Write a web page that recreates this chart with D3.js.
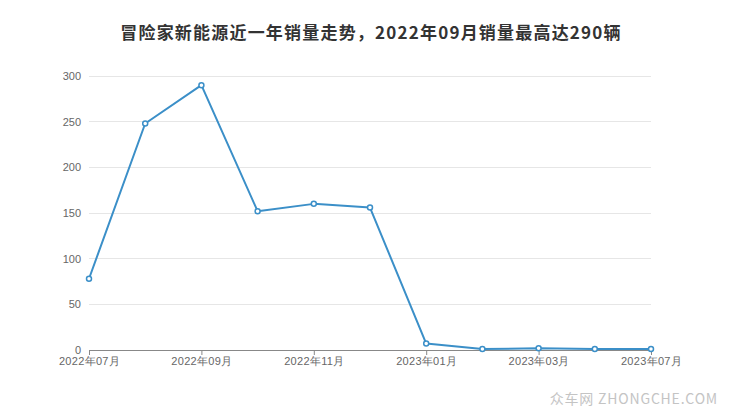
<!DOCTYPE html>
<html><head><meta charset="utf-8">
<script src="https://cdn.jsdelivr.net/npm/d3@7"></script>
<style>body{margin:0;background:#fff;}svg{display:block;font-family:"Noto Sans CJK SC","Liberation Sans",sans-serif;}</style>
</head><body>
<svg id="c" width="740" height="417"></svg>
<script>
const categories = ["2022年07月","2022年08月","2022年09月","2022年10月","2022年11月","2022年12月","2023年01月","2023年02月","2023年03月","2023年06月","2023年07月"];
const sales = [78,248,290,152,160,156,7,1,2,1,1];
const yTicks = [0,50,100,150,200,250,300];
const xLabelIdx = [0,2,4,6,8,10];
const title = "冒险家新能源近一年销量走势，2022年09月销量最高达290辆";
const watermark = "众车网 ZHONGCHE.COM";

const svg = d3.select("#c");
const L = 89, R = 651, T = 76, B = 350;
const x = d3.scalePoint().domain(categories).range([L, R]);
const y = d3.scaleLinear().domain([0, 300]).range([B, T]);
const color = "#3b8fc8";

svg.append("text").attr("x", 371).attr("y", 39).attr("text-anchor", "middle")
  .attr("font-size", 17).attr("letter-spacing", 1.2).attr("font-weight", "bold").attr("fill", "#333").text(title);

// grid
svg.append("g").selectAll("line").data(yTicks.filter(d => d > 0)).join("line")
  .attr("x1", L).attr("x2", R).attr("y1", d => y(d)).attr("y2", d => y(d))
  .attr("stroke", "#e6e6e6").attr("stroke-width", 1).attr("shape-rendering", "crispEdges");

// y axis labels
const ya = svg.append("g").attr("transform", `translate(${L},0)`)
  .call(d3.axisLeft(y).tickValues(yTicks).tickSize(0).tickPadding(8));
ya.select(".domain").remove();
ya.selectAll("text").attr("font-size", 11).attr("fill", "#666").attr("font-family", "'Liberation Sans','Noto Sans CJK SC',sans-serif");

// x axis
const xa = svg.append("g").attr("transform", `translate(0,${B})`)
  .call(d3.axisBottom(x).tickValues(xLabelIdx.map(i => categories[i])).tickSize(5).tickSizeOuter(0).tickPadding(2));
xa.select(".domain").attr("stroke", "#888").attr("d", `M${L},0.5H${R}`);
xa.selectAll(".tick line").attr("stroke", "#888");
xa.selectAll("text").attr("font-size", 11).attr("fill", "#666").attr("letter-spacing", 0.3);

// line
const line = d3.line().x((d, i) => x(categories[i])).y(d => y(d));
svg.append("path").datum(sales).attr("d", line).attr("fill", "none")
  .attr("stroke", color).attr("stroke-width", 2).attr("stroke-linejoin", "round");

svg.append("g").selectAll("circle").data(sales).join("circle")
  .attr("cx", (d, i) => x(categories[i])).attr("cy", d => y(d)).attr("r", 2.5)
  .attr("fill", "#fff").attr("stroke", color).attr("stroke-width", 1.5);

svg.append("text").attr("x", 718).attr("y", 404).attr("text-anchor", "end")
  .attr("font-size", 14).attr("letter-spacing", 0.8).attr("fill", "#c4c4c4").text(watermark);
</script>
</body></html>
